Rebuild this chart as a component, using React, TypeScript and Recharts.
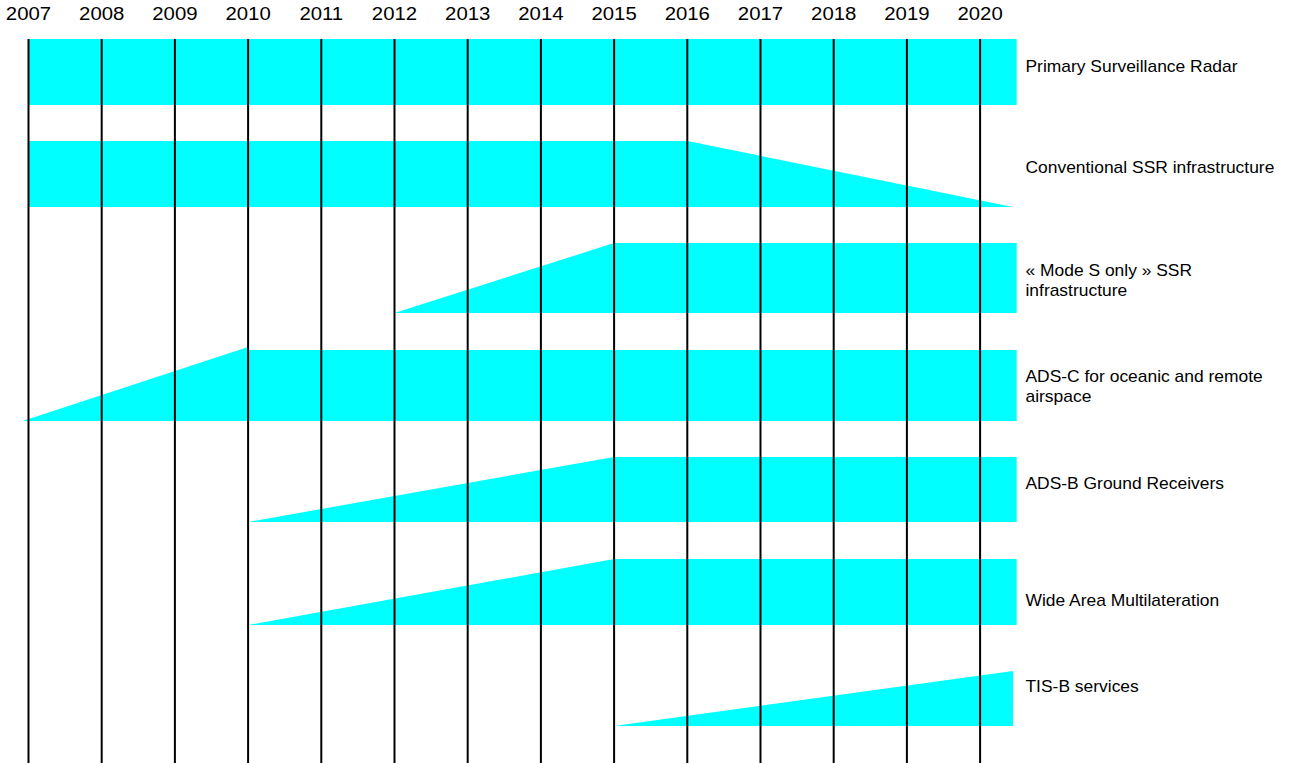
import React from 'react';
import { ComposedChart, Area, XAxis, YAxis, ReferenceLine, Scatter } from 'recharts';

const years = [2007, 2008, 2009, 2010, 2011, 2012, 2013, 2014, 2015, 2016, 2017, 2018, 2019, 2020];

// Band data: x = year, r = [bottom, top] in row units (0 = top of the band area)
const rowPSR = [
  { x: 2007, r: [66, 0] },
  { x: 2020.5, r: [66, 0] },
];
const rowSSR = [
  { x: 2007, r: [168, 102] },
  { x: 2016, r: [168, 102] },
  { x: 2020.45, r: [168, 168] },
];
const rowModeS = [
  { x: 2012, r: [274, 274] },
  { x: 2015, r: [274, 204] },
  { x: 2020.5, r: [274, 204] },
];
const rowADSC = [
  { x: 2006.92, r: [382, 382] },
  { x: 2010, r: [382, 308] },
  { x: 2010.01, r: [382, 311] },
  { x: 2020.5, r: [382, 311] },
];
const rowADSB = [
  { x: 2010, r: [483, 483] },
  { x: 2015, r: [483, 418] },
  { x: 2020.5, r: [483, 418] },
];
const rowWAM = [
  { x: 2010, r: [586, 586] },
  { x: 2015, r: [586, 520] },
  { x: 2020.5, r: [586, 520] },
];
const rowTISB = [
  { x: 2015, r: [687, 687] },
  { x: 2020.45, r: [687, 632] },
];

const rows = [rowPSR, rowSSR, rowModeS, rowADSC, rowADSB, rowWAM, rowTISB];

const labelLines = [
  ['Primary Surveillance Radar'],
  ['Conventional SSR infrastructure'],
  ['\u00AB Mode S only \u00BB SSR', 'infrastructure'],
  ['ADS-C for oceanic and remote', 'airspace'],
  ['ADS-B Ground Receivers'],
  ['Wide Area Multilateration'],
  ['TIS-B services'],
];
const labelCenters = [27, 128, 241, 347, 444, 561, 647];
const labelX = 2020.62;

const labelData = labelLines.map((lines, i) => ({ x: labelX, y: labelCenters[i], lines }));

const FONT = "Arial, 'Liberation Sans', sans-serif";
const CYAN = '#00FFFF';

const YearTick = (props: any) => {
  const { x, y, payload } = props;
  return (
    <text
      transform={`translate(${x},${y}) scale(1.1,1)`}
      x={0}
      y={0}
      textAnchor="middle"
      fontFamily={FONT}
      fontSize={18.5}
      fill="#000"
    >
      {payload.value}
    </text>
  );
};

const LabelShape = (props: any) => {
  const { cx, cy, payload } = props;
  const lines: string[] = payload.lines;
  const lh = 20;
  const first = cy - ((lines.length - 1) * lh) / 2 + 5.7;
  return (
    <g>
      {lines.map((l, i) => (
        <text
          key={i}
          transform={`translate(${cx},${first + i * lh}) scale(1.09,1)`}
          x={0}
          y={0}
          textAnchor="start"
          fontFamily={FONT}
          fontSize={16}
          fill="#000"
        >
          {l}
        </text>
      ))}
    </g>
  );
};

export default function App() {
  return (
    <div style={{ position: 'absolute', left: 0, top: 0, background: '#fff' }}>
      <ComposedChart width={1295} height={763} margin={{ top: 0, right: 0, bottom: 0, left: 0 }}>
        <XAxis
          dataKey="x"
          type="number"
          orientation="top"
          xAxisId={0}
          domain={[2006.6107, 2024.302]}
          allowDataOverflow
          ticks={years}
          interval={0}
          height={39}
          tickSize={0}
          tickMargin={19}
          axisLine={false}
          tickLine={false}
          tick={<YearTick />}
        />
        <YAxis type="number" yAxisId={0} domain={[0, 724]} reversed allowDataOverflow hide />
        {rows.map((d, i) => (
          <Area
            key={i}
            data={d}
            dataKey="r"
            type="linear"
            stroke="none"
            fill={CYAN}
            fillOpacity={1}
            isAnimationActive={false}
            dot={false}
            activeDot={false}
          />
        ))}
        {years.map((y) => (
          <ReferenceLine key={y} x={y} stroke="#000" strokeWidth={2} />
        ))}
        <Scatter data={labelData} dataKey="y" shape={<LabelShape />} isAnimationActive={false} />
      </ComposedChart>
    </div>
  );
}
